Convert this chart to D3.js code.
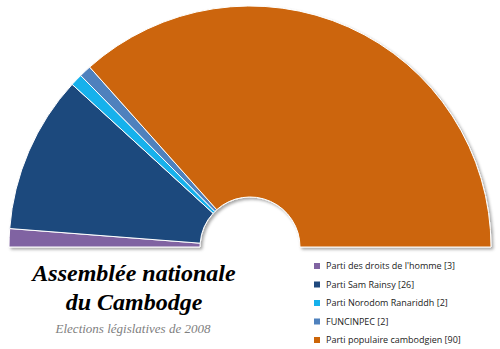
<!DOCTYPE html>
<html>
<head>
<meta charset="utf-8">
<script src="https://cdn.jsdelivr.net/npm/d3@7"></script>
<style>
  body { margin: 0; background: #fff; }
</style>
</head>
<body>
<script>
// * DATA
const parties = [
  "Parti des droits de l'homme",
  "Parti Sam  Rainsy",
  "Parti Norodom Ranariddh",
  "FUNCINPEC",
  "Parti populaire cambodgien",
];
const seats = [3, 26, 2, 2, 90];
const colors = ["#8064a2", "#1f497d", "#16b1ec", "#4f81bd", "#cc6508"];
const titleLines = ["Assemblée nationale", "du Cambodge"];
const subtitle = "Elections législatives de 2008";

// * SETUP
const width = 500, height = 349;
const cx = 250, cy = 247;
const outerR = 241, innerR = 50;

const svg = d3.select("body").append("svg")
  .attr("width", width)
  .attr("height", height)
  .attr("viewBox", [0, 0, width, height]);

// soft drop shadow like the office export
const filter = svg.append("defs").append("filter")
  .attr("id", "shadow")
  .attr("x", "-5%").attr("y", "-5%")
  .attr("width", "115%").attr("height", "115%");
filter.append("feDropShadow")
  .attr("dx", 2).attr("dy", 2)
  .attr("stdDeviation", 1.5)
  .attr("flood-color", "#000")
  .attr("flood-opacity", 0.35);

const data = parties.map((p, i) => ({ party: p, seats: seats[i], color: colors[i] }));

const pie = d3.pie()
  .value((d) => d.seats)
  .sort(null)
  .startAngle(-Math.PI / 2)
  .endAngle(Math.PI / 2);

const arc = d3.arc().innerRadius(innerR).outerRadius(outerR);

// * HEMICYCLE
svg.append("g")
  .attr("transform", `translate(${cx},${cy})`)
  .attr("filter", "url(#shadow)")
  .selectAll("path")
  .data(pie(data))
  .join("path")
  .attr("d", arc)
  .attr("fill", (d) => d.data.color)
  .attr("stroke", "#fff")
  .attr("stroke-width", 1)
  .attr("stroke-linejoin", "round");

// * TITLE
const title = svg.append("g")
  .attr("font-family", "'Liberation Serif', 'Times New Roman', serif")
  .attr("text-anchor", "middle");

title.selectAll("text.title")
  .data(titleLines)
  .join("text")
  .attr("class", "title")
  .attr("x", 134)
  .attr("y", (d, i) => 281 + i * 29)
  .attr("font-size", 24)
  .attr("font-weight", "bold")
  .attr("font-style", "italic")
  .attr("fill", "#000")
  .text((d) => d);

title.append("text")
  .attr("x", 133)
  .attr("y", 333)
  .attr("font-size", 13)
  .attr("font-style", "italic")
  .attr("fill", "#808080")
  .text(subtitle);

// * LEGEND
const legendY = d3.scalePoint()
  .domain(parties)
  .range([266, 340]);

const legend = svg.append("g")
  .attr("font-family", "'Open Sans', 'Liberation Sans', sans-serif")
  .attr("font-size", 9)
  .selectAll("g")
  .data(data)
  .join("g")
  .attr("transform", (d) => `translate(314,${legendY(d.party)})`);

legend.append("rect")
  .attr("x", 0)
  .attr("y", -3)
  .attr("width", 6)
  .attr("height", 6)
  .attr("fill", (d) => d.color);

legend.append("text")
  .attr("x", 12)
  .attr("y", 0)
  .attr("dy", "0.35em")
  .attr("fill", "#222")
  .text((d) => `${d.party} [${d.seats}]`);
</script>
</body>
</html>
